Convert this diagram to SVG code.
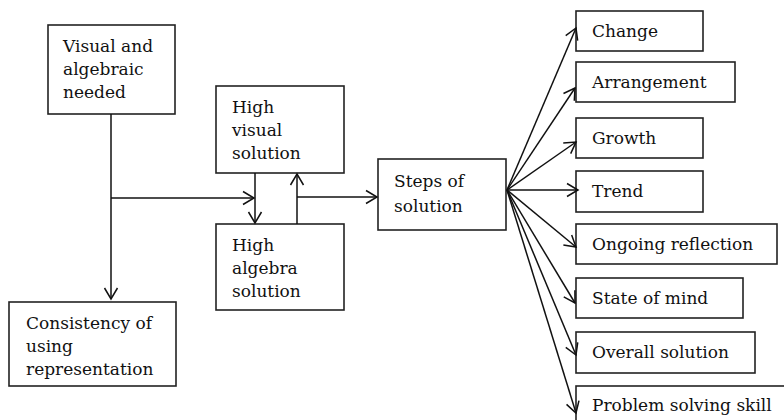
<svg xmlns="http://www.w3.org/2000/svg" width="784" height="420" viewBox="0 0 784 420">
<defs>
<style>
.box{fill:#fff;stroke:#222;stroke-width:1.6}
.t{font-family:"DejaVu Serif","Liberation Serif",serif;font-size:17px;fill:#111}
.c line{stroke:#111;stroke-width:1.5;fill:none;marker-end:url(#ah)}
</style>
<marker id="ah" markerUnits="userSpaceOnUse" markerWidth="14" markerHeight="16" viewBox="-12 -8 14 16" refX="0" refY="0" orient="auto">
<path d="M-11,-6.5 L0,0 L-11,6.5" fill="none" stroke="#111" stroke-width="1.5"/>
</marker>
</defs>
<rect width="784" height="420" fill="#fff"/>
<g id="visual-algebraic">
<rect class="box" x="48" y="25" width="127" height="89"/>
<text class="t" x="63" y="52">Visual and</text>
<text class="t" x="63" y="75">algebraic</text>
<text class="t" x="63" y="98">needed</text>
</g>
<g id="consistency">
<rect class="box" x="9" y="302" width="167" height="84"/>
<text class="t" x="26" y="329">Consistency of</text>
<text class="t" x="26" y="352">using</text>
<text class="t" x="26" y="375">representation</text>
</g>
<g id="high-visual">
<rect class="box" x="216" y="86" width="128" height="87"/>
<text class="t" x="232" y="113">High</text>
<text class="t" x="232" y="136">visual</text>
<text class="t" x="232" y="159">solution</text>
</g>
<g id="high-algebra">
<rect class="box" x="216" y="224" width="128" height="86"/>
<text class="t" x="232" y="251">High</text>
<text class="t" x="232" y="274">algebra</text>
<text class="t" x="232" y="297">solution</text>
</g>
<g id="steps">
<rect class="box" x="378" y="159" width="128" height="71"/>
<text class="t" x="394" y="187">Steps of</text>
<text class="t" x="394" y="212">solution</text>
</g>
<g id="change"><rect class="box" x="576" y="11" width="127" height="40"/><text class="t" x="592" y="37">Change</text></g>
<g id="arrangement"><rect class="box" x="576" y="62" width="159" height="40"/><text class="t" x="592" y="88">Arrangement</text></g>
<g id="growth"><rect class="box" x="576" y="118" width="127" height="40"/><text class="t" x="592" y="144">Growth</text></g>
<g id="trend"><rect class="box" x="576" y="171" width="127" height="41"/><text class="t" x="592" y="197">Trend</text></g>
<g id="ongoing"><rect class="box" x="576" y="224" width="201" height="40"/><text class="t" x="592" y="250">Ongoing reflection</text></g>
<g id="state"><rect class="box" x="576" y="278" width="167" height="40"/><text class="t" x="592" y="304">State of mind</text></g>
<g id="overall"><rect class="box" x="576" y="332" width="179" height="41"/><text class="t" x="592" y="358">Overall solution</text></g>
<g id="problem"><rect class="box" x="576" y="386" width="230" height="50"/><text class="t" x="592" y="411">Problem solving skill</text></g>
<g id="connectors" class="c">
<line x1="111" y1="114" x2="111" y2="299"/>
<line x1="111" y1="198" x2="254" y2="198"/>
<line x1="255" y1="173" x2="255" y2="223"/>
<line x1="297" y1="224" x2="297" y2="174"/>
<line x1="297" y1="197" x2="377" y2="197"/>
<line x1="507" y1="190" x2="576" y2="28"/>
<line x1="507" y1="190" x2="575" y2="88"/>
<line x1="507" y1="190" x2="576" y2="142"/>
<line x1="507" y1="190" x2="578" y2="190"/>
<line x1="507" y1="190" x2="576" y2="247"/>
<line x1="507" y1="190" x2="575" y2="303"/>
<line x1="507" y1="190" x2="576" y2="355"/>
<line x1="507" y1="190" x2="576" y2="413"/>
</g>
</svg>
